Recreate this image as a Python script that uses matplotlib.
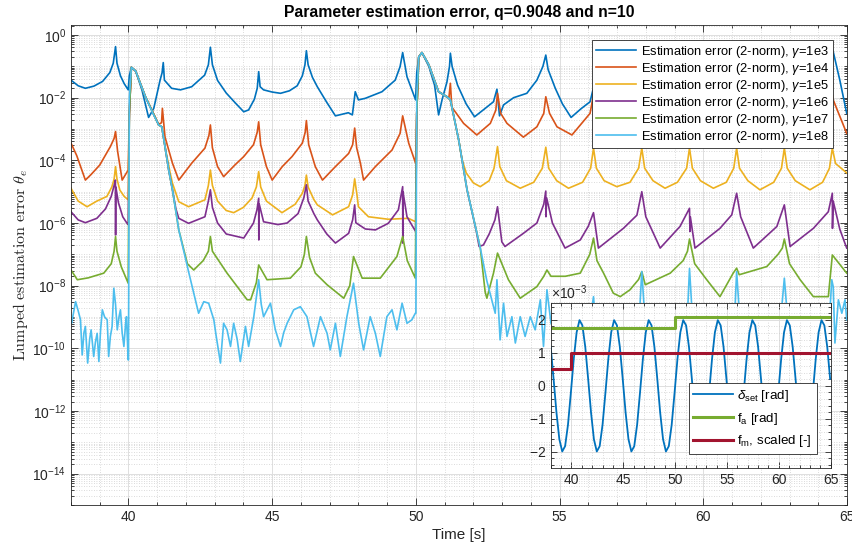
import numpy as np
import matplotlib
matplotlib.use('Agg')
import matplotlib.pyplot as plt
from matplotlib.ticker import (FixedLocator, MultipleLocator, LogLocator,
                               NullFormatter, ScalarFormatter, LogFormatterSciNotation)

plt.rcParams['font.family'] = ['Liberation Sans', 'DejaVu Sans']
plt.rcParams['mathtext.fontset'] = 'custom'
plt.rcParams['mathtext.rm'] = 'Liberation Sans'
plt.rcParams['mathtext.it'] = 'Liberation Sans:italic'
plt.rcParams['mathtext.bf'] = 'Liberation Sans:bold'

# ---------------- data (time [s], log10 of estimation error) ----------------
gammas = ['1e3', '1e4', '1e5', '1e6', '1e7', '1e8']
colors = ['#0072BD', '#D95319', '#EDB120', '#7E2F8E', '#77AC30', '#4DBEEE']

err_g1e3 = [(38.00,-1.44),(38.25,-1.62),(38.50,-1.70),(38.80,-1.63),(39.10,-1.48),(39.35,-1.20),(39.47,-0.90),(39.55,-0.37),(39.60,-0.90),(39.72,-1.30),(39.85,-1.55),(39.99,-1.75),
    (40.03,-1.30),(40.10,-1.03),(40.25,-1.15),(40.47,-1.76),(40.70,-2.63),(40.88,-2.34),(41.10,-1.44),(41.17,-1.20),(41.21,-0.88),(41.25,-1.44),(41.50,-1.70),(41.81,-1.75),(42.20,-1.65),(42.65,-1.28),(42.78,-0.95),(42.85,-0.39),(42.92,-0.95),(43.10,-1.45),(43.40,-1.85),(43.75,-2.20),(44.01,-2.45),(44.18,-2.39),(44.38,-2.05),(44.48,-1.70),(44.53,-1.17),(44.58,-1.65),(44.70,-1.75),(45.00,-1.82),(45.29,-1.86),(45.60,-1.78),(45.87,-1.62),(46.05,-1.30),(46.14,-0.95),(46.19,-0.50),(46.25,-0.95),(46.40,-1.35),(46.57,-1.65),(46.90,-2.15),(47.20,-2.58),(47.65,-2.48),(47.79,-2.55),(47.89,-1.81),(48.00,-2.07),(48.24,-2.02),(48.82,-1.81),(49.28,-1.44),(49.45,-1.01),(49.54,-0.56),(49.69,-1.33),(49.99,-2.07),
    (50.03,-1.20),(50.10,-0.70),(50.21,-0.56),(50.45,-1.00),(50.65,-1.60),(50.79,-2.55),(50.91,-2.07),(51.08,-1.50),(51.17,-1.00),(51.20,-0.58),(51.26,-1.00),(51.45,-1.60),(51.75,-2.20),(52.04,-2.61),(52.40,-2.35),(52.70,-2.13),(52.82,-1.73),(52.91,-2.58),(53.05,-2.23),(53.40,-2.00),(53.86,-1.86),(54.21,-1.44),(54.42,-1.00),(54.52,-0.64),(54.60,-1.10),(54.85,-1.70),(55.10,-2.20),(55.40,-2.63),(55.75,-2.35),(56.06,-2.13),(56.16,-1.75),(56.22,-2.55),(56.60,-2.10),(57.30,-1.85),(57.70,-1.40),(57.86,-0.60),(58.00,-1.20),(58.40,-1.90),(58.80,-2.60),(59.30,-2.20),(59.50,-1.75),(59.56,-2.55),(60.30,-2.00),(61.00,-1.50),(61.16,-0.60),(61.30,-1.30),(61.70,-2.00),(62.10,-2.60),(62.60,-2.20),(62.82,-1.75),(62.87,-2.50),(63.30,-2.10),(63.80,-1.90),(64.20,-1.40),(64.38,-1.00),(64.47,-0.40),(64.52,-0.53),(64.75,-1.44),(64.99,-2.50)]

err_g1e4 = [(38.00,-3.45),(38.20,-3.85),(38.50,-4.63),(38.70,-4.45),(39.00,-4.15),(39.37,-3.56),(39.50,-3.30),(39.55,-3.08),(39.62,-3.70),(39.78,-4.63),(39.99,-4.31),
    (40.03,-2.50),(40.10,-1.03),(40.25,-1.15),(40.59,-1.97),(41.05,-2.85),(41.15,-2.80),(41.18,-2.34),(41.27,-3.25),(41.53,-4.09),(41.75,-4.63),(42.20,-4.09),(42.66,-3.61),(42.80,-3.20),(42.85,-2.87),(42.92,-3.60),(43.10,-4.20),(43.31,-4.52),(43.70,-4.15),(44.01,-3.88),(44.35,-3.50),(44.48,-3.10),(44.53,-2.77),(44.60,-3.50),(44.80,-4.20),(45.00,-4.63),(45.35,-4.20),(45.69,-3.88),(46.05,-3.45),(46.15,-3.10),(46.19,-2.73),(46.27,-3.50),(46.50,-4.20),(46.75,-4.63),(47.20,-4.20),(47.66,-3.78),(47.80,-3.50),(47.87,-2.97),(47.94,-3.60),(48.07,-4.09),(48.18,-4.63),(48.59,-4.20),(49.17,-3.67),(49.45,-3.14),(49.54,-2.58),(49.75,-3.45),(49.99,-4.09),
    (50.03,-2.50),(50.10,-0.70),(50.21,-0.56),(50.45,-0.95),(50.79,-1.81),(51.08,-1.97),(51.15,-2.00),(51.20,-1.54),(51.25,-2.30),(51.66,-2.82),(52.12,-3.19),(52.59,-2.82),(52.78,-2.40),(52.84,-1.86),(52.95,-2.50),(53.17,-2.82),(53.74,-3.26),(54.21,-2.93),(54.45,-2.50),(54.52,-1.97),(54.65,-2.50),(54.91,-2.93),(55.43,-3.19),(56.06,-2.50),(56.18,-1.90),(56.30,-2.50),(56.60,-2.90),(57.05,-3.20),(57.55,-2.90),(57.80,-2.40),(57.86,-1.90),(57.95,-2.50),(58.30,-2.90),(58.70,-3.20),(59.20,-2.90),(59.45,-2.40),(59.52,-1.90),(59.60,-2.50),(60.00,-2.90),(60.35,-3.20),(60.80,-2.90),(61.10,-2.40),(61.16,-1.90),(61.25,-2.50),(61.60,-2.90),(62.00,-3.20),(62.50,-2.90),(62.75,-2.40),(62.82,-1.90),(62.90,-2.50),(63.30,-2.90),(63.70,-3.20),(64.20,-2.90),(64.43,-2.40),(64.49,-1.90),(64.52,-2.07),(64.99,-3.14)]

err_g1e5 = [(38.00,-4.89),(38.25,-5.30),(38.56,-5.48),(38.90,-5.30),(39.25,-5.15),(39.42,-4.85),(39.50,-4.60),(39.55,-4.20),(39.60,-4.60),(39.70,-4.95),(39.85,-5.15),(39.99,-5.26),
    (40.03,-2.50),(40.10,-1.03),(40.25,-1.15),(40.59,-1.97),(41.05,-2.87),(41.16,-2.93),(41.30,-3.70),(41.45,-4.40),(41.53,-4.73),(41.75,-5.32),(42.09,-5.48),(42.66,-5.26),(42.78,-4.80),(42.85,-4.31),(42.92,-4.80),(43.10,-5.30),(43.40,-5.60),(43.66,-5.67),(44.00,-5.50),(44.30,-5.20),(44.45,-4.85),(44.53,-4.36),(44.60,-4.85),(44.80,-5.30),(45.34,-5.67),(45.80,-5.40),(46.05,-5.05),(46.14,-4.80),(46.19,-4.47),(46.25,-4.85),(46.45,-5.25),(46.57,-5.42),(47.10,-5.74),(47.66,-5.48),(47.80,-5.10),(47.87,-4.59),(47.95,-5.10),(48.00,-5.48),(48.35,-5.80),(49.04,-5.88),(49.74,-5.85),(49.99,-5.96),
    (50.03,-2.50),(50.10,-0.70),(50.21,-0.56),(50.45,-0.95),(50.79,-1.81),(51.08,-1.97),(51.20,-2.07),(51.49,-3.35),(51.60,-3.95),(51.75,-4.40),(52.00,-4.72),(52.24,-4.84),(52.55,-4.65),(52.72,-4.25),(52.84,-3.56),(52.92,-4.20),(53.15,-4.65),(53.63,-4.89),(54.10,-4.70),(54.40,-4.25),(54.52,-3.58),(54.62,-4.25),(54.90,-4.65),(55.31,-4.89),(55.80,-4.70),(56.08,-4.25),(56.18,-3.61),(56.28,-4.25),(56.55,-4.65),(56.99,-4.84),(57.45,-4.70),(57.75,-4.25),(57.86,-3.61),(57.96,-4.25),(58.25,-4.65),(58.67,-4.89),(59.10,-4.70),(59.42,-4.25),(59.52,-3.61),(59.62,-4.25),(59.90,-4.65),(60.35,-4.89),(60.80,-4.70),(61.06,-4.25),(61.16,-3.61),(61.26,-4.25),(61.55,-4.65),(61.97,-4.94),(62.45,-4.70),(62.72,-4.25),(62.82,-3.61),(62.92,-4.25),(63.20,-4.65),(63.71,-4.94),(64.15,-4.70),(64.39,-4.25),(64.49,-3.61),(64.60,-4.10),(64.99,-4.40)]

err_g1e6 = [(38.00,-5.64),(38.25,-5.90),(38.50,-5.99),(38.90,-5.85),(39.20,-5.55),(39.40,-5.15),(39.50,-4.80),(39.545,-4.63),(39.552,-6.38),(39.56,-4.85),(39.65,-5.35),(39.80,-5.80),(39.95,-6.01),(39.99,-6.05),
    (40.03,-2.50),(40.10,-1.03),(40.25,-1.15),(40.59,-1.97),(41.05,-2.87),(41.16,-2.93),(41.40,-4.31),(41.53,-4.94),(41.65,-5.55),(41.75,-5.85),(42.09,-6.01),(42.66,-5.80),(42.78,-5.30),(42.85,-4.94),(42.92,-5.50),(43.10,-6.00),(43.40,-6.35),(44.01,-6.48),(44.35,-6.00),(44.47,-5.58),(44.53,-5.21),(44.535,-6.54),(44.55,-5.40),(44.70,-5.96),(45.20,-6.05),(45.52,-6.00),(45.90,-5.70),(46.10,-5.20),(46.19,-4.78),(46.25,-5.30),(46.45,-5.70),(46.57,-5.90),(46.90,-6.35),(47.20,-6.64),(47.66,-6.33),(47.80,-5.90),(47.87,-5.42),(47.91,-5.99),(48.24,-6.19),(48.59,-6.22),(49.04,-6.01),(49.39,-5.58),(49.54,-4.84),(49.545,-6.64),(49.55,-5.00),(49.69,-5.80),(49.99,-6.27),
    (50.03,-2.50),(50.10,-0.70),(50.21,-0.56),(50.45,-0.95),(50.79,-1.81),(51.08,-1.97),(51.20,-2.07),(51.49,-3.35),(51.78,-4.94),(52.10,-6.25),(52.20,-6.75),(52.35,-6.70),(52.55,-6.35),(52.75,-5.90),(52.84,-5.48),(52.99,-6.60),(53.10,-6.75),(53.74,-6.33),(54.21,-6.00),(54.45,-5.40),(54.52,-4.98),(54.525,-5.80),(54.55,-5.20),(54.75,-6.00),(55.19,-6.80),(55.72,-6.54),(56.00,-6.10),(56.18,-5.67),(56.35,-6.80),(57.22,-6.17),(57.69,-5.75),(57.86,-5.00),(58.00,-5.80),(58.50,-6.80),(59.19,-6.11),(59.52,-5.53),(59.535,-6.27),(59.55,-5.80),(59.71,-6.80),(60.58,-6.17),(60.99,-5.74),(61.16,-5.05),(61.30,-5.80),(61.74,-6.80),(62.56,-6.11),(62.82,-5.42),(63.02,-6.75),(63.83,-6.17),(64.35,-5.64),(64.49,-5.05),(64.495,-6.17),(64.52,-5.30),(64.75,-6.20),(64.99,-6.80)]

err_g1e7 = [(38.00,-7.50),(38.22,-7.81),(38.60,-7.75),(39.14,-7.60),(39.40,-7.30),(39.50,-6.90),(39.55,-6.43),(39.60,-6.90),(39.75,-7.40),(39.99,-7.92),
    (40.03,-2.50),(40.10,-1.03),(40.25,-1.15),(40.59,-1.97),(41.05,-2.87),(41.16,-2.93),(41.40,-4.31),(41.53,-4.94),(41.75,-6.22),(42.05,-7.30),(42.27,-7.50),(42.60,-7.20),(42.78,-6.90),(42.85,-6.43),(42.92,-6.90),(43.43,-7.60),(44.13,-8.45),(44.25,-8.45),(44.45,-7.90),(44.53,-7.34),(44.82,-7.81),(45.63,-7.76),(46.00,-7.40),(46.12,-7.00),(46.19,-6.43),(46.30,-7.10),(46.50,-7.60),(46.91,-7.97),(47.49,-8.40),(47.70,-8.00),(47.83,-7.07),(48.13,-7.76),(48.76,-7.76),(49.34,-7.07),(49.54,-6.43),(49.70,-7.20),(49.98,-7.76),
    (50.03,-2.50),(50.10,-0.70),(50.21,-0.56),(50.45,-0.95),(50.79,-1.81),(51.08,-1.97),(51.20,-2.07),(51.49,-3.35),(51.78,-4.94),(52.24,-6.79),(52.41,-8.20),(52.47,-8.40),(52.70,-7.60),(52.84,-6.96),(53.22,-7.81),(53.63,-8.40),(54.21,-8.03),(54.45,-7.70),(54.56,-7.50),(54.70,-7.70),(55.20,-7.70),(55.72,-7.60),(56.05,-7.00),(56.18,-6.48),(56.30,-7.20),(56.53,-7.60),(56.87,-8.24),(57.11,-8.35),(57.45,-8.13),(57.75,-7.80),(57.86,-7.55),(57.98,-7.97),(58.85,-7.60),(59.30,-7.20),(59.45,-6.90),(59.52,-6.51),(59.70,-7.30),(60.12,-7.81),(60.58,-8.35),(61.04,-7.60),(61.16,-7.44),(61.25,-7.65),(62.21,-7.39),(62.60,-7.00),(62.75,-6.80),(62.82,-6.51),(63.00,-7.30),(63.37,-7.81),(63.83,-8.35),(64.35,-8.35),(64.49,-7.02),(64.99,-7.60)]

err_g1e8 = [(38.00,-9.10),(38.02,-9.20),(38.08,-8.90),(38.16,-8.51),(38.25,-8.80),(38.33,-9.09),(38.39,-10.21),(38.45,-9.50),(38.50,-9.30),(38.58,-10.47),(38.65,-9.70),(38.70,-9.41),(38.79,-10.26),(38.85,-9.80),(38.91,-9.52),(38.97,-10.42),(39.03,-9.40),(39.09,-8.77),(39.17,-9.00),(39.26,-9.09),(39.31,-10.26),(39.37,-9.62),(39.43,-9.30),(39.49,-8.08),(39.55,-8.60),(39.61,-9.41),(39.67,-9.00),(39.72,-8.77),(39.78,-9.50),(39.84,-9.94),(39.90,-9.20),(39.93,-8.99),(39.99,-10.37),
    (40.00,-10.37),(40.03,-2.00),(40.10,-1.03),(40.25,-1.15),(40.59,-1.97),(40.85,-2.50),(41.05,-2.87),(41.16,-2.93),(41.40,-4.31),(41.53,-4.94),(41.75,-6.22),(42.09,-7.55),(42.44,-8.88),(42.62,-8.51),(42.79,-8.56),(42.97,-9.09),(43.05,-9.60),(43.20,-10.47),(43.31,-9.20),(43.43,-9.41),(43.55,-9.94),(43.66,-9.20),(43.78,-9.70),(43.89,-10.42),(44.07,-9.30),(44.18,-9.94),(44.36,-8.99),(44.53,-7.81),(44.62,-8.60),(44.70,-8.99),(44.94,-8.56),(45.11,-9.41),(45.29,-9.94),(45.40,-9.50),(45.52,-9.20),(45.75,-8.77),(45.98,-8.67),(46.21,-8.99),(46.44,-9.94),(46.68,-8.99),(46.91,-9.52),(47.02,-10.05),(47.20,-9.20),(47.37,-10.26),(47.60,-8.99),(47.83,-7.92),(48.01,-9.20),(48.18,-10.05),(48.41,-8.99),(48.59,-9.52),(48.76,-10.26),(48.99,-8.99),(49.17,-8.77),(49.34,-9.41),(49.52,-8.56),(49.69,-9.20),(49.86,-9.09),(49.98,-8.88),
    (50.00,-8.88),(50.03,-2.00),(50.10,-0.70),(50.21,-0.56),(50.45,-0.95),(50.79,-1.81),(51.08,-1.97),(51.20,-2.07),(51.49,-3.35),(51.78,-4.94),(52.24,-6.79),(52.47,-7.85),(52.76,-8.88),(52.82,-7.81),(52.93,-9.73),(53.05,-8.56),(53.17,-9.62),(53.34,-8.99),(53.46,-9.83),(53.63,-8.99),(53.80,-9.62),(53.98,-8.99),(54.15,-9.41),(54.33,-8.45),(54.44,-9.94),(54.56,-8.13),(54.70,-9.20),(54.90,-9.60),(55.10,-9.00),(55.30,-9.70),(55.50,-9.10),(55.70,-9.50),(55.90,-9.00),(56.05,-9.30),(56.14,-8.60),(56.18,-8.35),(56.22,-8.80),(56.30,-9.30),(56.50,-9.60),(56.80,-9.00),(57.00,-9.50),(57.30,-9.10),(57.60,-9.60),(57.78,-8.90),(57.86,-7.55),(57.95,-8.80),(58.10,-9.40),(58.40,-9.00),(58.70,-9.60),(59.00,-9.10),(59.30,-9.50),(59.45,-8.90),(59.52,-7.45),(59.60,-8.70),(59.80,-9.30),(60.10,-9.00),(60.40,-9.60),(60.70,-9.10),(61.00,-9.40),(61.10,-8.80),(61.16,-7.55),(61.25,-8.80),(61.50,-9.30),(61.80,-9.00),(62.10,-9.60),(62.40,-9.10),(62.70,-9.00),(62.82,-7.76),(62.92,-8.90),(63.20,-9.40),(63.50,-9.00),(63.80,-9.60),(64.10,-9.20),(64.40,-8.90),(64.47,-7.81),(64.52,-8.03),(64.58,-9.83),(64.70,-8.45),(64.82,-8.88),(64.93,-8.45),(64.99,-9.09)]

series = [err_g1e3, err_g1e4, err_g1e5, err_g1e6, err_g1e7, err_g1e8]

y_tick_exponents = [0, -2, -4, -6, -8, -10, -12, -14]
x_ticks = [40, 45, 50, 55, 60, 65]

# ---------------- inset data ----------------
dset_t0 = 38.0          # first sample time [s]
dset_dt = 0.27778       # sample spacing [s]
dset_mrad = [1.18, 0.21, -0.81, -1.62, -1.99, -1.83, -1.18, -0.21, 0.81, 1.62, 1.99, 1.83,
             1.18, 0.21, -0.81, -1.62, -1.99, -1.83, -1.18, -0.21, 0.81, 1.62, 1.99, 1.83,
             1.18, 0.21, -0.81, -1.62, -1.99, -1.83, -1.18, -0.21, 0.81, 1.62, 1.99, 1.83,
             1.18, 0.21, -0.81, -1.62, -1.99, -1.83, -1.18, -0.21, 0.81, 1.62, 1.99, 1.83,
             1.18, 0.21, -0.81, -1.62, -1.99, -1.83, -1.18, -0.21, 0.81, 1.62, 1.99, 1.83,
             1.18, 0.21, -0.81, -1.62, -1.99, -1.83, -1.18, -0.21, 0.81, 1.62, 1.99, 1.83,
             1.18, 0.21, -0.81, -1.62, -1.99, -1.83, -1.18, -0.21, 0.81, 1.62, 1.99, 1.83,
             1.18, 0.21, -0.81, -1.62, -1.99, -1.83, -1.18, -0.21, 0.81, 1.62, 1.99, 1.83,
             1.18, 0.21]
fa_t = [38.0, 50.0, 65.0]
fa_rad = [1.745e-3, 2.094e-3, 2.094e-3]
fm_t = [38.0, 40.0, 65.0]
fm_scaled = [0.5e-3, 1.0e-3, 1.0e-3]

# ---------------- figure ----------------
W, H = 853, 551
fig = plt.figure(figsize=(W / 100, H / 100), dpi=100)
ax = fig.add_axes([71 / W, 1 - 505 / H, 776 / W, 480 / H])

dark = '#262626'
for pts, g, c in zip(series, gammas, colors):
    arr = np.array(pts)
    ax.plot(arr[:, 0], 10.0 ** arr[:, 1], color=c, lw=1.2,
            label='Estimation error (2-norm), $\\gamma$=' + g)

ax.set_yscale('log')
ax.set_xlim(38, 65)
ax.set_ylim(1e-15, 10 ** 0.32)
ax.yaxis.set_major_locator(FixedLocator([10.0 ** k for k in y_tick_exponents]))
ax.yaxis.set_major_formatter(LogFormatterSciNotation())
ax.yaxis.set_minor_locator(LogLocator(base=10, subs=np.arange(1, 10), numticks=200))
ax.yaxis.set_minor_formatter(NullFormatter())
ax.xaxis.set_major_locator(FixedLocator(x_ticks))
ax.xaxis.set_minor_locator(MultipleLocator(1))

ax.grid(which='major', color='#dedede', lw=0.7)
ax.grid(which='minor', color='#cfcfcf', lw=0.6, linestyle=(0, (1, 2)))
ax.set_axisbelow(True)
ax.tick_params(which='both', direction='in', top=True, right=True, colors=dark,
               labelcolor=dark, width=0.6)
ax.tick_params(which='major', length=5, labelsize=10)
ax.tick_params(which='minor', length=2.5)
for s in ax.spines.values():
    s.set_color(dark)
    s.set_linewidth(0.6)

ax.set_title('Parameter estimation error, q=0.9048 and n=10', fontweight='bold',
             fontsize=11.3, color='black', pad=6)
ax.set_xlabel('Time [s]', fontsize=11, color=dark, labelpad=3)
ax.set_ylabel(r'$\mathrm{Lumped\ estimation\ error}\ \theta_e$', fontsize=11.5,
              color=dark, math_fontfamily='cm', labelpad=2)

leg = ax.legend(loc='upper right', bbox_to_anchor=((833 - 71) / 776, (505 - 40) / 480),
                borderaxespad=0, fontsize=9.3, frameon=True, fancybox=False,
                edgecolor=dark, framealpha=1, handlelength=3.1, handletextpad=0.4,
                labelspacing=0.08, borderpad=0.28)
leg.get_frame().set_linewidth(0.6)

# ---------------- inset ----------------
axi = fig.add_axes([550.7 / W, 1 - 468.3 / H, 280 / W, 165 / H])
axi.set_facecolor('white')
dset_t = dset_t0 + dset_dt * np.arange(len(dset_mrad))
axi.plot(dset_t, np.array(dset_mrad) * 1e-3, color='#0072BD', lw=1.3,
         label=r'$\delta_{\mathrm{set}}$ [rad]')
axi.plot(fa_t, fa_rad, color='#77AC30', lw=2.2, drawstyle='steps-post',
         label=r'f$_\mathrm{a}$ [rad]')
axi.plot(fm_t, fm_scaled, color='#A2142F', lw=2.2, drawstyle='steps-post',
         label=r'f$_\mathrm{m}$, scaled [-]')
axi.set_xlim(38, 65)
axi.set_ylim(-2.5e-3, 2.5e-3)
axi.xaxis.set_major_locator(FixedLocator(x_ticks))
axi.xaxis.set_minor_locator(MultipleLocator(1))
axi.yaxis.set_major_locator(MultipleLocator(1e-3))
axi.yaxis.set_minor_locator(MultipleLocator(0.2e-3))
fmt = ScalarFormatter(useMathText=True)
fmt.set_powerlimits((-2, 2))
axi.yaxis.set_major_formatter(fmt)
axi.grid(which='major', color='#dedede', lw=0.7)
axi.grid(which='minor', color='#cfcfcf', lw=0.6, linestyle=(0, (1, 2)))
axi.set_axisbelow(True)
axi.tick_params(which='both', direction='in', top=True, right=True, colors=dark,
                labelcolor=dark, width=0.6)
axi.tick_params(which='major', length=4, labelsize=10)
axi.tick_params(which='minor', length=2)
axi.yaxis.get_offset_text().set_fontsize(10)
axi.yaxis.get_offset_text().set_color(dark)
for s in axi.spines.values():
    s.set_color(dark)
    s.set_linewidth(0.6)
legi = axi.legend(loc='lower right', bbox_to_anchor=(0.95, 0.087), borderaxespad=0,
                  fontsize=9.6, frameon=True, fancybox=False, edgecolor=dark,
                  framealpha=1, handlelength=3.0, handletextpad=0.3,
                  labelspacing=0.5, borderpad=0.35)
legi.get_frame().set_linewidth(0.6)

fig.savefig('out.png', dpi=100)
